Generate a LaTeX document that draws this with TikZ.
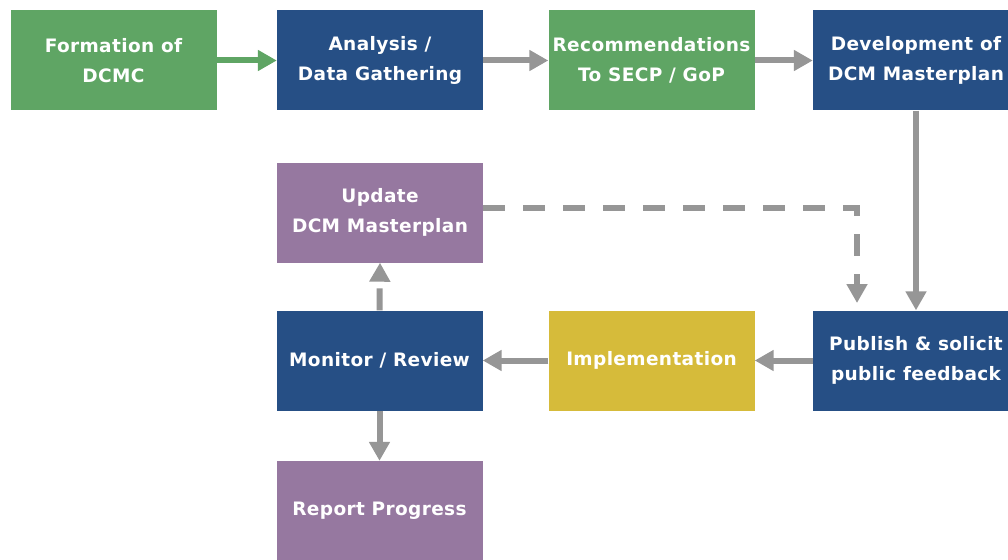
\documentclass[tikz,border=0pt]{standalone}
\usepackage{fontspec}
\setmainfont{DejaVu Sans}[LetterSpace=2]
\usetikzlibrary{arrows.meta}
\definecolor{boxgreen}{HTML}{5FA564}
\definecolor{boxblue}{HTML}{264F85}
\definecolor{boxpurple}{HTML}{9678A0}
\definecolor{boxyellow}{HTML}{D6BB3A}
\definecolor{linkgray}{HTML}{969696}
\begin{document}
\begin{tikzpicture}[x=1pt,y=-1pt,
  stepbox/.style={minimum width=206pt,minimum height=100pt,inner sep=0pt,
    text=white,font=\bfseries\fontsize{18.5}{30}\selectfont,align=center},
  greenbox/.style={stepbox,fill=boxgreen},
  bluebox/.style={stepbox,fill=boxblue},
  purplebox/.style={stepbox,fill=boxpurple},
  yellowbox/.style={stepbox,fill=boxyellow},
  link/.style={line width=6pt,draw=linkgray,-{Triangle[length=19pt,width=20pt]}},
  greenlink/.style={link,draw=boxgreen},
  dashlink/.style={link,dash pattern=on 22pt off 18pt}]
\useasboundingbox[fill=white] (0,0) rectangle (1008,559);

% top row
\node[greenbox]  (formation) at (113.5,60.5) {Formation of\\DCMC};
\node[bluebox]   (analysis)  at (380,60.5)   {Analysis /\\Data Gathering};
\node[greenbox]  (recommend) at (651.5,60.5) {Recommendations\\To SECP / GoP};
\node[bluebox]   (develop)   at (916,60.5)   {Development of\\DCM Masterplan};

% middle and lower rows
\node[purplebox] (update)    at (380,212.5)  {Update\\DCM Masterplan};
\node[bluebox]   (monitor)   at (379.5,360.5){Monitor / Review};
\node[yellowbox] (implement) at (651.5,360.5){Implementation};
\node[bluebox]   (publish)   at (916,360.5)  {Publish \& solicit\\public feedback};
\node[purplebox] (report)    at (379.5,511)  {Report Progress};

\coordinate (bend) at (857,208);
\coordinate (drop) at (857,303);

% connectors
\draw[greenlink] (formation.east) -- (analysis.west);
\draw[link] (analysis.east) -- (recommend.west);
\draw[link] (recommend.east) -- (develop.west);
\draw[link] (develop.south) -- (publish.north);
\draw[link] (publish.west) -- (implement.west -| implement.east);
\draw[link] (implement.west) -- (monitor.east);
\draw[link] (monitor.south) -- (report.north);
\draw[dashlink] (monitor.north) -- (update.south);
\draw[dashlink] (update.east |- bend) -- (bend) -- (drop);
\end{tikzpicture}
\end{document}
